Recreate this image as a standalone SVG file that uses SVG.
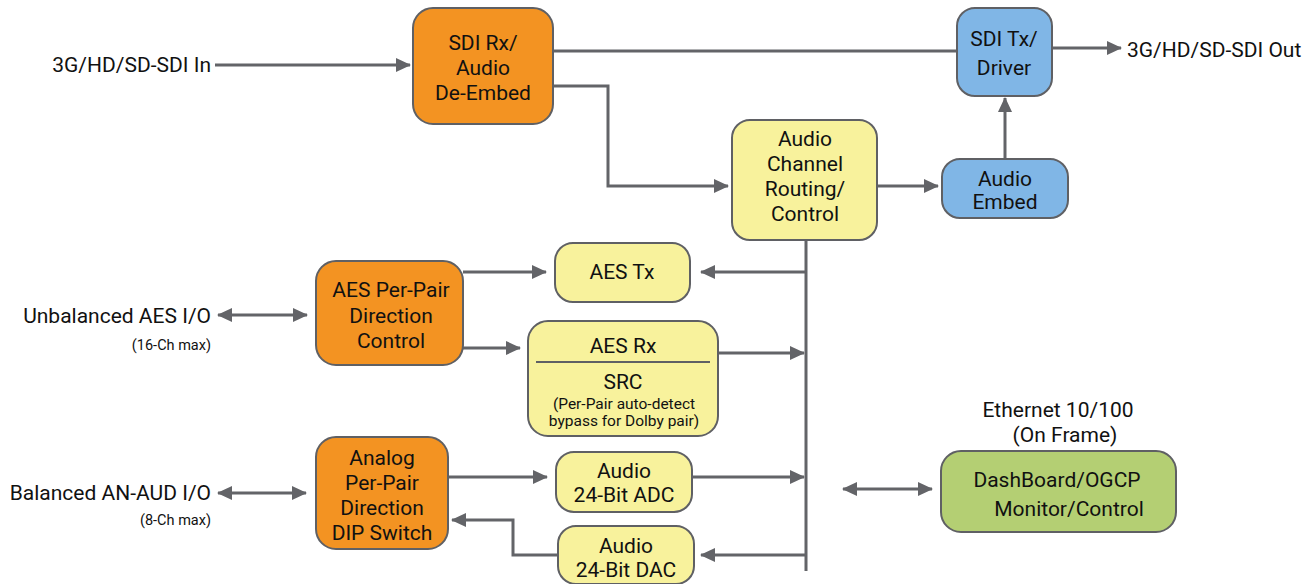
<svg xmlns="http://www.w3.org/2000/svg" width="1310" height="584" viewBox="0 0 1310 584">
<style>
text{font-family:Roboto,"Liberation Sans",sans-serif;fill:#111;font-size:21px}
.c{text-anchor:middle}
.r{text-anchor:end}
.s{font-size:14.5px}
.m{font-size:15.5px}
.box{stroke:#5f6064;stroke-width:2}
.or{fill:#f39322}
.ye{fill:#f8f29c}
.bl{fill:#80b6e6}
.gr{fill:#b4cf73}
.ln{fill:none;stroke:#636468;stroke-width:3}
</style>
<defs>
<marker id="a" markerUnits="userSpaceOnUse" markerWidth="16" markerHeight="16" refX="14" refY="8" orient="auto-start-reverse" viewBox="0 0 16 16">
<path d="M0,1 L15,8 L0,15 Z" fill="#636468"/>
</marker>
</defs>
<g id="connectors">
<path class="ln" d="M215,65 H410" marker-end="url(#a)"/>
<path class="ln" d="M553,51 H957"/>
<path class="ln" d="M553,86 H608 V186 H728" marker-end="url(#a)"/>
<path class="ln" d="M877,186 H938" marker-end="url(#a)"/>
<path class="ln" d="M1005,159 V98" marker-end="url(#a)"/>
<path class="ln" d="M1052,48 H1121" marker-end="url(#a)"/>
<path class="ln" d="M806,240 V571"/>
<path class="ln" d="M806,272 H701" marker-end="url(#a)"/>
<path class="ln" d="M718,353 H804" marker-end="url(#a)"/>
<path class="ln" d="M463,272 H546" marker-end="url(#a)"/>
<path class="ln" d="M463,348 H520" marker-end="url(#a)"/>
<path class="ln" d="M218,315 H307" marker-start="url(#a)" marker-end="url(#a)"/>
<path class="ln" d="M448,477 H547" marker-end="url(#a)"/>
<path class="ln" d="M692,477 H804" marker-end="url(#a)"/>
<path class="ln" d="M806,555 H701" marker-end="url(#a)"/>
<path class="ln" d="M558,555 H513 V520 H452" marker-end="url(#a)"/>
<path class="ln" d="M218,493 H306" marker-start="url(#a)" marker-end="url(#a)"/>
<path class="ln" d="M843,489 H932" marker-start="url(#a)" marker-end="url(#a)"/>
</g>
<g id="labels">
<text class="r" x="211" y="72">3G/HD/SD-SDI In</text>
<text x="1127" y="57">3G/HD/SD-SDI Out</text>
<text class="r" x="211" y="323">Unbalanced AES I/O</text>
<text class="r s" x="211" y="350">(16-Ch max)</text>
<text class="r" x="211" y="500">Balanced AN-AUD I/O</text>
<text class="r s" x="211" y="525">(8-Ch max)</text>
<text class="c" x="1058" y="417">Ethernet 10/100</text>
<text class="c" x="1065" y="442">(On Frame)</text>
</g>
<g id="sdi-rx">
<rect class="box or" x="413" y="8" width="140" height="116" rx="20"/>
<text class="c" x="483" y="50">SDI Rx/</text>
<text class="c" x="483" y="75">Audio</text>
<text class="c" x="483" y="100">De-Embed</text>
</g>
<g id="sdi-tx">
<rect class="box bl" x="957" y="8" width="95" height="88" rx="18"/>
<text class="c" x="1004" y="46">SDI Tx/</text>
<text class="c" x="1004" y="75">Driver</text>
</g>
<g id="audio-embed">
<rect class="box bl" x="942" y="159" width="126" height="59" rx="18"/>
<text class="c" x="1005" y="186">Audio</text>
<text class="c" x="1005" y="209">Embed</text>
</g>
<g id="audio-routing">
<rect class="box ye" x="732" y="120" width="145" height="120" rx="18"/>
<text class="c" x="805" y="146">Audio</text>
<text class="c" x="805" y="171">Channel</text>
<text class="c" x="805" y="196">Routing/</text>
<text class="c" x="805" y="221">Control</text>
</g>
<g id="aes-tx">
<rect class="box ye" x="555" y="243" width="135" height="59" rx="18"/>
<text class="c" x="622" y="279">AES Tx</text>
</g>
<g id="aes-rx">
<rect class="box ye" x="528" y="321" width="190" height="115" rx="20"/>
<line x1="536" y1="362" x2="710" y2="362" stroke="#5f6064" stroke-width="2"/>
<text class="c" x="623" y="353">AES Rx</text>
<text class="c" x="623" y="389">SRC</text>
<text class="c m" x="624" y="409">(Per-Pair auto-detect</text>
<text class="c m" x="624" y="426">bypass for Dolby pair)</text>
</g>
<g id="aes-direction">
<rect class="box or" x="316" y="261" width="147" height="104" rx="20"/>
<text class="c" x="391" y="297">AES Per-Pair</text>
<text class="c" x="391" y="323">Direction</text>
<text class="c" x="391" y="348">Control</text>
</g>
<g id="analog-direction">
<rect class="box or" x="316" y="437" width="132" height="112" rx="20"/>
<text class="c" x="382" y="465">Analog</text>
<text class="c" x="382" y="490">Per-Pair</text>
<text class="c" x="382" y="515">Direction</text>
<text class="c" x="382" y="540">DIP Switch</text>
</g>
<g id="adc">
<rect class="box ye" x="556" y="452" width="136" height="60" rx="18"/>
<text class="c" x="624" y="478">Audio</text>
<text class="c" x="624" y="502">24-Bit ADC</text>
</g>
<g id="dac">
<rect class="box ye" x="558" y="526" width="136" height="58" rx="18"/>
<text class="c" x="626" y="553">Audio</text>
<text class="c" x="626" y="577">24-Bit DAC</text>
</g>
<g id="dashboard">
<rect class="box gr" x="941" y="451" width="235" height="81" rx="20"/>
<text class="c" x="1057" y="487">DashBoard/OGCP</text>
<text class="c" x="1069" y="516">Monitor/Control</text>
</g>
</svg>
